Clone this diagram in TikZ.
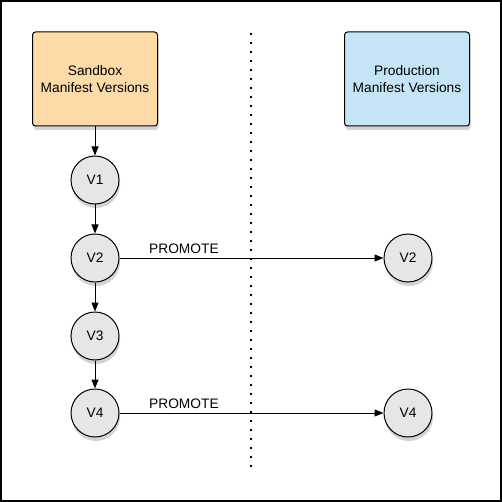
\documentclass[tikz,border=0pt]{standalone}
\usepackage{fontspec}
\setmainfont{Liberation Sans}
\usetikzlibrary{shadows,arrows.meta}
\definecolor{sandfill}{HTML}{FDDBA8}
\definecolor{prodfill}{HTML}{C5E5F7}
\definecolor{verfill}{HTML}{E6E6E6}
\tikzset{
  header/.style={draw=black, line width=1pt, rounded corners=3pt, minimum width=125pt, minimum height=94pt, align=center, font=\fontsize{13.75}{16.7}\selectfont, drop shadow={shadow xshift=1pt, shadow yshift=-4pt, opacity=0.35}},
  ver/.style={circle, draw=black, line width=1pt, fill=verfill, minimum size=48pt, inner sep=0pt, font=\fontsize{13.75}{16}\selectfont, drop shadow={shadow xshift=1pt, shadow yshift=-4pt, opacity=0.35}},
  conn/.style={draw=black, line width=1pt, -{Triangle[length=9pt,width=7pt]}},
  lbl/.style={font=\fontsize{13.75}{16}\selectfont, anchor=south west, inner sep=1pt}
}
\begin{document}
\begin{tikzpicture}[x=1pt,y=-1pt]
\useasboundingbox (0,0) rectangle (502,502);
\draw[line width=1.5pt] (1,1) rectangle (501,501);
\draw[line width=2pt, dash pattern=on 2pt off 7pt] (251,33) -- (251,470);
\node[header, fill=sandfill] (sb) at (95,79) {Sandbox\\Manifest Versions};
\node[header, fill=prodfill] (pr) at (407,79) {Production\\Manifest Versions};
\node[ver] (v1) at (95,180) {V1};
\node[ver] (v2) at (95,258) {V2};
\node[ver] (v3) at (95,336) {V3};
\node[ver] (v4) at (95,413) {V4};
\node[ver] (p2) at (408,258) {V2};
\node[ver] (p4) at (408,413) {V4};
\draw[conn] (sb) -- (v1);
\draw[conn] (v1) -- (v2);
\draw[conn] (v2) -- (v3);
\draw[conn] (v3) -- (v4);
\draw[conn] (v2) -- (p2);
\draw[conn] (v4) -- (p4);
\node[lbl] (l1) at (148,255) {PROMOTE};
\node[lbl] (l2) at (148,410) {PROMOTE};
\end{tikzpicture}
\end{document}
